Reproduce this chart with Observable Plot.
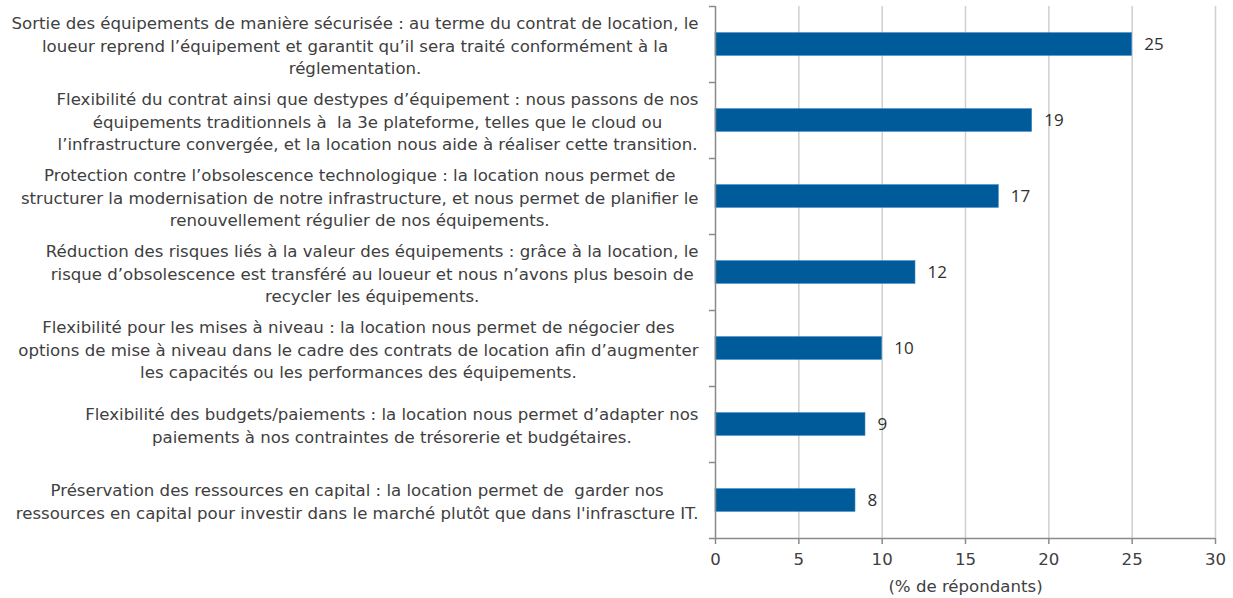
<!DOCTYPE html>
<html>
<head>
<meta charset="utf-8">
<script src="https://cdn.jsdelivr.net/npm/d3@7"></script>
<script src="https://cdn.jsdelivr.net/npm/@observablehq/plot@0.6"></script>
<style>
  html, body { margin: 0; padding: 0; background: #fff; }
  #chart svg { display: block; }
</style>
</head>
<body>
<div id="chart"></div>
<script>
const categories = [
  "Sortie des équipements de manière sécurisée : au terme du contrat de location, le\nloueur reprend l’équipement et garantit qu’il sera traité conformément à la\nréglementation.",
  "Flexibilité du contrat ainsi que destypes d’équipement : nous passons de nos\néquipements traditionnels à  la 3e plateforme, telles que le cloud ou\nl’infrastructure convergée, et la location nous aide à réaliser cette transition.",
  "Protection contre l’obsolescence technologique : la location nous permet de\nstructurer la modernisation de notre infrastructure, et nous permet de planifier le\nrenouvellement régulier de nos équipements.",
  "Réduction des risques liés à la valeur des équipements : grâce à la location, le\nrisque d’obsolescence est transféré au loueur et nous n’avons plus besoin de\nrecycler les équipements.",
  "Flexibilité pour les mises à niveau : la location nous permet de négocier des\noptions de mise à niveau dans le cadre des contrats de location afin d’augmenter\nles capacités ou les performances des équipements.",
  "Flexibilité des budgets/paiements : la location nous permet d’adapter nos\npaiements à nos contraintes de trésorerie et budgétaires.",
  "Préservation des ressources en capital : la location permet de  garder nos\nressources en capital pour investir dans le marché plutôt que dans l'infrascture IT."
];
const values = [25, 19, 17, 12, 10, 9, 8.4];
const xTicks = [0, 5, 10, 15, 20, 25, 30];
const xLabel = "(% de répondants)";

const W = 1233, H = 598;
const mt = 6, mb = 60, ml = 715, mr = 18;
const labelFont = "DejaVu Sans, sans-serif";
const labelSize = 16.6;
const textColor = "#404040";

const n = categories.length;
const data = categories.map((c, i) => ({cat: c, value: values[i], i}));
const step = (H - mt - mb) / n;
const inset = step * 0.35;

// measure block widths to centre lines inside a right-aligned block
const ctx = document.createElement("canvas").getContext("2d");
ctx.font = `${labelSize}px ${labelFont}`;
const blockWidth = c => d3.max(c.split("\n"), l => ctx.measureText(l).width);
const gap = 17;

const labelMarks = data.map(d => Plot.text([d], {
  x: () => 0,
  y: d => d.i + 0.5,
  text: "cat",
  textAnchor: "middle",
  lineAnchor: "middle",
  lineHeight: 1.36,
  dx: -(gap + blockWidth(d.cat) / 2),
  fontSize: labelSize,
  fontFamily: labelFont,
  fill: textColor
}));

const chart = Plot.plot({
  width: W,
  height: H,
  marginTop: mt,
  marginBottom: mb,
  marginLeft: ml,
  marginRight: mr,
  style: {fontFamily: labelFont, fontSize: labelSize + "px", color: textColor, background: "#fff"},
  x: {type: "linear", domain: [0, 30]},
  y: {type: "linear", domain: [0, n], reverse: true},
  marks: [
    Plot.ruleX(xTicks.slice(1), {y1: () => 0, y2: () => n, stroke: "#cfcfcf", strokeWidth: 1.5}),
    Plot.rectX(data, {
      x1: () => 0,
      x2: "value",
      y1: "i",
      y2: d => d.i + 1,
      insetTop: inset,
      insetBottom: inset,
      fill: "#005b9b",
      stroke: "#3f86c0",
      strokeWidth: 0.6
    }),
    Plot.text(data, {
      x: "value",
      y: d => d.i + 0.5,
      text: d => d3.format(".0f")(d.value),
      textAnchor: "start",
      dx: 12,
      fontSize: 17,
      fontFamily: "Open Sans, sans-serif",
      fill: "#303030"
    }),
    Plot.ruleX([0], {y1: () => 0, y2: () => n, stroke: "#8a8a8a", strokeWidth: 1.5}),
    Plot.ruleY([n], {x1: () => 0, x2: () => 30, stroke: "#8a8a8a", strokeWidth: 1.5}),
    Plot.axisY({
      ticks: d3.range(0, n + 1),
      tickFormat: () => "",
      tickSize: 6,
      stroke: "#8a8a8a",
      strokeWidth: 1.5,
      label: null
    }),
    Plot.axisX({
      ticks: xTicks,
      tickSize: 6,
      tickPadding: 9,
      stroke: "#8a8a8a",
      strokeWidth: 1.5,
      fill: textColor,
      fontSize: labelSize,
      label: xLabel,
      labelAnchor: "center",
      labelArrow: "none",
      labelOffset: 53
    }),
    ...labelMarks
  ]
});
document.getElementById("chart").appendChild(chart);
</script>
</body>
</html>
